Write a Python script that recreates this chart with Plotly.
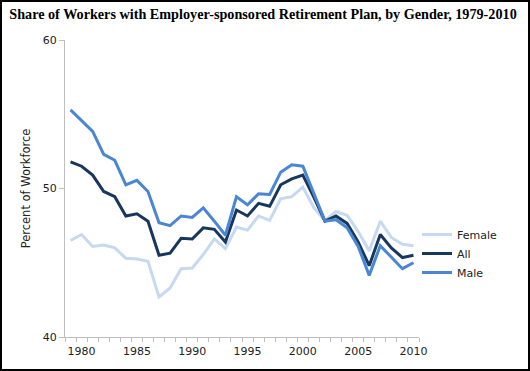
import plotly.graph_objects as go

years = list(range(1979, 2011))
female = [46.5, 46.9, 46.1, 46.2, 46.0, 45.3, 45.25, 45.1, 42.7, 43.3, 44.6, 44.65,
          45.55, 46.6, 45.95, 47.4, 47.2, 48.15, 47.85, 49.3, 49.45, 50.1, 48.7, 47.85,
          48.45, 48.2, 47.1, 45.8, 47.8, 46.7, 46.25, 46.15]
all_w = [51.8, 51.5, 50.9, 49.8, 49.45, 48.15, 48.3, 47.8, 45.5, 45.65, 46.65, 46.6,
         47.35, 47.25, 46.4, 48.55, 48.15, 49.0, 48.8, 50.25, 50.65, 50.9, 49.4, 47.8,
         48.15, 47.65, 46.4, 44.8, 46.9, 46.0, 45.35, 45.5]
male = [55.3, 54.6, 53.85, 52.3, 51.9, 50.25, 50.55, 49.8, 47.7, 47.5, 48.15, 48.05,
        48.7, 47.8, 46.85, 49.45, 48.9, 49.65, 49.6, 51.1, 51.6, 51.5, 49.65, 47.8,
        47.9, 47.35, 46.1, 44.15, 46.15, 45.35, 44.6, 45.0]

names = ["Female", "All", "Male"]
colors = ["#c6d9f1", "#17375e", "#4a86d3"]
series = [female, all_w, male]

fig = go.Figure()
for n, c, s in zip(names, colors, series):
    fig.add_trace(go.Scatter(x=years, y=s, name=n, mode="lines",
                             line=dict(color=c, width=3)))

L, R, T, B = 65, 111, 40, 34
W, H = 530, 371
pw, ph = W - L - R, H - T - B

def px2paper_x(p):
    return (p - L) / pw

def px2paper_y(p):
    return (H - B - p) / ph

fig.update_layout(
    width=W, height=H,
    margin=dict(l=L, r=R, t=T, b=B),
    paper_bgcolor="white", plot_bgcolor="white",
    font=dict(family="DejaVu Sans", size=11, color="#222"),
    title=dict(text="<b>Share of Workers with Employer-sponsored Retirement Plan, by Gender, 1979-2010</b>",
               font=dict(family="Liberation Serif", size=14.2, color="black"),
               x=263 / W, xref="container", xanchor="center", y=1 - 14 / H, yanchor="middle"),
    showlegend=True,
    legend=dict(x=px2paper_x(417), y=px2paper_y(220), xanchor="left", yanchor="top",
                font=dict(family="DejaVu Sans", size=11, color="#222"),
                tracegroupgap=0, itemwidth=30, bgcolor="rgba(0,0,0,0)"),
    xaxis=dict(range=[1978.5, 2010.5], tickvals=list(range(1980, 2011, 5)),
               ticktext=[str(v) for v in range(1980, 2011, 5)],
               showgrid=False, zeroline=False, showline=True, linecolor="#bfbfbf", linewidth=1,
               ticks="", ticklabelstandoff=4,
               minor=dict(tick0=1978.5, dtick=1, ticks="outside", ticklen=4,
                          tickcolor="#bfbfbf", showgrid=False),
               fixedrange=True),
    yaxis=dict(range=[40, 60], tickvals=[40, 50, 60], showgrid=False, zeroline=False,
               showline=True, linecolor="#bfbfbf", linewidth=1,
               ticks="outside", ticklen=5, tickcolor="#bfbfbf",
               title=dict(text="Percent of Workforce", standoff=9,
                          font=dict(family="DejaVu Sans", size=11.5, color="#222")),
               fixedrange=True),
    shapes=[dict(type="rect", xref="paper", yref="paper",
                 x0=px2paper_x(1), x1=px2paper_x(529), y0=px2paper_y(370), y1=px2paper_y(1),
                 line=dict(color="black", width=2), fillcolor="rgba(0,0,0,0)", layer="above")],
)

fig.write_html("out.html", config={"displayModeBar": False},
               post_script="document.body.style.margin='0';document.body.style.padding='0';")
